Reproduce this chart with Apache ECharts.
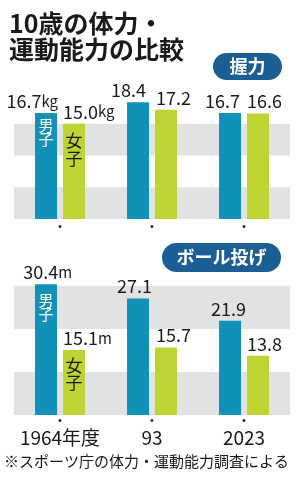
<!DOCTYPE html>
<html><head><meta charset="utf-8">
<script src="https://cdn.jsdelivr.net/npm/echarts@6/dist/echarts.min.js"></script>
<style>html,body{margin:0;padding:0;background:#fff}#c{width:300px;height:484px}</style>
</head><body><div id="c"></div>
<script>
// ---- data ----
const categories = ['1964年度', '93', '2023'];
const gripBoys = [16.7, 18.4, 16.7];     // 握力 男子 (kg)
const gripGirls = [15.0, 17.2, 16.6];    // 握力 女子 (kg)
const throwBoys = [30.4, 27.1, 21.9];    // ボール投げ 男子 (m)
const throwGirls = [15.1, 15.7, 13.8];   // ボール投げ 女子 (m)
const gripUnit = 'kg';
const throwUnit = 'm';
const titleText = '10歳の体力・\n運動能力の比較';
const gripName = '握力';
const throwName = 'ボール投げ';
const boyName = '男子';
const girlName = '女子';
const noteText = '※スポーツ庁の体力・運動能力調査による';

// ---- styling / layout ----
const FONT = '"Noto Sans CJK JP", "Noto Sans", sans-serif';
const BLUE = '#1190b8';
const GREEN = '#bdd432';
const GREY = '#e1e2e4';
const PILL = '#1b5e93';
const labelDx = {
  gripBoys: [12, 8, 10], gripGirls: [-11, -10, -11],
  throwBoys: [26, 14, 16], throwGirls: [-11, -10, -11]
};

function items(vals, unit, dx, align) {
  return vals.map((v, i) => ({
    value: v,
    label: {
      align: align,
      offset: [dx[i], 0],
      formatter: '{v|' + v.toFixed(1) + '}' + (i === 0 ? '{u|' + unit + '}' : '')
    }
  }));
}
const baseLabel = {
  show: true, position: 'top', distance: 3,
  rich: {
    v: { fontFamily: FONT, fontSize: 18, lineHeight: 18, color: '#1a1a1a' },
    u: { fontFamily: FONT, fontSize: 15, lineHeight: 18, color: '#1a1a1a' }
  }
};
function tag(text, dy, color, size, lh) {
  return {
    symbolSize: 0,
    label: {
      show: true, position: 'inside', formatter: text.split('').join('\n'),
      offset: [0, dy], color: color, fontFamily: FONT, fontSize: size, lineHeight: lh
    }
  };
}

const chart = echarts.init(document.getElementById('c'), null, { renderer: 'canvas' });
const xAxisBase = {
  type: 'category', data: categories,
  axisLine: { show: false }, axisTick: { show: false }
};
const option = {
  animation: false,
  backgroundColor: '#fff',
  grid: [
    { left: 14, right: 10, top: 92, bottom: 265 },
    { left: 14, right: 10, top: 243, bottom: 69 }
  ],
  xAxis: [
    Object.assign({}, xAxisBase, {
      gridIndex: 0,
      axisLabel: { margin: 2, formatter: () => '{d|•}', rich: { d: { fontSize: 11, lineHeight: 12, color: '#222' } } }
    }),
    Object.assign({}, xAxisBase, {
      gridIndex: 1,
      axisLabel: {
        margin: 0, formatter: v => '{d|•}\n{t|' + v + '}',
        rich: {
          d: { fontSize: 11, lineHeight: 12, color: '#222' },
          t: { fontFamily: FONT, fontSize: 19, lineHeight: 22, color: '#1a1a1a' }
        }
      }
    })
  ],
  yAxis: [
    { type: 'value', gridIndex: 0, min: 0, max: 20, interval: 5, axisLabel: { show: false },
      axisLine: { show: false }, axisTick: { show: false }, splitLine: { show: false },
      splitArea: { show: true, areaStyle: { color: [GREY, 'rgba(255,255,255,0)'] } } },
    { type: 'value', gridIndex: 1, min: 0, max: 40, interval: 10, axisLabel: { show: false },
      axisLine: { show: false }, axisTick: { show: false }, splitLine: { show: false },
      splitArea: { show: true, areaStyle: { color: [GREY, 'rgba(255,255,255,0)'] } } }
  ],
  series: [
    { type: 'bar', xAxisIndex: 0, yAxisIndex: 0, barWidth: 22, barGap: '27%',
      itemStyle: { color: BLUE }, label: baseLabel,
      data: items(gripBoys, gripUnit, labelDx.gripBoys, 'right'),
      markPoint: { data: [Object.assign({ coord: [0, gripBoys[0]] }, tag(boyName, 19, '#fff', 15, 14))] } },
    { type: 'bar', xAxisIndex: 0, yAxisIndex: 0, barWidth: 22, barGap: '27%',
      itemStyle: { color: GREEN }, label: baseLabel,
      data: items(gripGirls, gripUnit, labelDx.gripGirls, 'left'),
      markPoint: { data: [Object.assign({ coord: [0, gripGirls[0]] }, tag(girlName, 26, '#1a1a1a', 17, 17.5))] } },
    { type: 'bar', xAxisIndex: 1, yAxisIndex: 1, barWidth: 22, barGap: '27%',
      itemStyle: { color: BLUE }, label: baseLabel,
      data: items(throwBoys, throwUnit, labelDx.throwBoys, 'right'),
      markPoint: { data: [Object.assign({ coord: [0, throwBoys[0]] }, tag(boyName, 23, '#fff', 15, 14))] } },
    { type: 'bar', xAxisIndex: 1, yAxisIndex: 1, barWidth: 22, barGap: '27%',
      itemStyle: { color: GREEN }, label: baseLabel,
      data: items(throwGirls, throwUnit, labelDx.throwGirls, 'left'),
      markPoint: { data: [Object.assign({ coord: [0, throwGirls[0]] }, tag(girlName, 24, '#1a1a1a', 17, 17.5))] } }
  ],
  graphic: [
    { type: 'text', left: 9, top: 11, style: { text: titleText, fontFamily: FONT, fontSize: 25, fontWeight: 'bold', lineHeight: 25.5, fill: '#1a1a1a' } },
    { type: 'group', left: 213, top: 53, children: [
      { type: 'rect', shape: { x: 0, y: 0, width: 69, height: 27, r: 13.5 }, style: { fill: PILL } },
      { type: 'text', x: 34.5, y: 13.5, style: { text: gripName, fontFamily: FONT, fontSize: 18, fontWeight: 'bold', fill: '#fff', align: 'center', verticalAlign: 'middle' } }
    ] },
    { type: 'group', left: 162, top: 243, children: [
      { type: 'rect', shape: { x: 0, y: 0, width: 119, height: 29, r: 14.5 }, style: { fill: PILL } },
      { type: 'text', x: 59.5, y: 14.5, style: { text: throwName, fontFamily: FONT, fontSize: 18, fontWeight: 'bold', fill: '#fff', align: 'center', verticalAlign: 'middle' } }
    ] },
    { type: 'text', left: 4, top: 454, style: { text: noteText, fontFamily: FONT, fontSize: 15, fill: '#1a1a1a' } }
  ]
};
chart.setOption(option);
</script>
</body></html>
